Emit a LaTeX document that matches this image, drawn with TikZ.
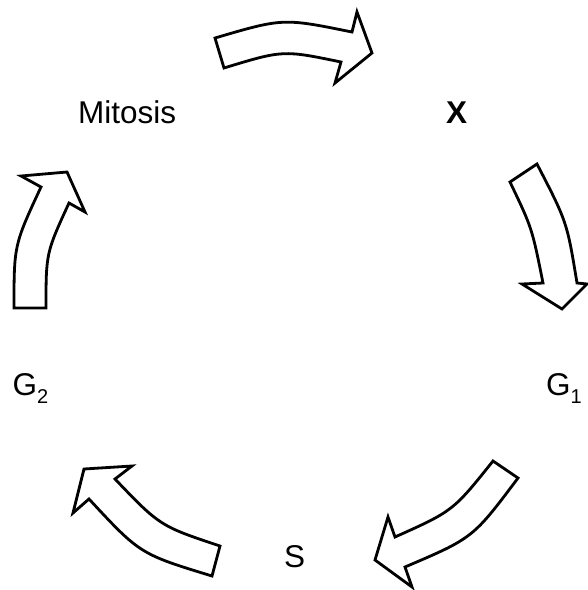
\documentclass[tikz,border=0pt]{standalone}
\usepackage{fontspec}
\setmainfont{Liberation Sans}
\begin{document}
\begin{tikzpicture}[x=1pt,y=-1pt,
  blockarrow/.style={draw=black, line width=2.8pt, line join=miter, fill=white},
  lbl/.style={inner sep=0pt, anchor=base west, font=\fontsize{31.5}{38}\selectfont}]
\useasboundingbox (0,0) rectangle (588,590);
% labels
\node[lbl] (mitosis) at (78,123) {Mitosis};
\node[lbl] (x) at (446,123) {\bfseries X};
\node[lbl] (g1) at (546,395) {G\raisebox{-8pt}{\fontsize{20}{20}\selectfont 1}};
\node[lbl] (s) at (284,567) {S};
\node[lbl] (g2) at (12.5,395) {G\raisebox{-8pt}{\fontsize{20}{20}\selectfont 2}};
% Mitosis -> X
\draw[blockarrow] (224,68) -- (215,38) .. controls (283,18) .. (352,32)
  -- (357,12) -- (372,53) -- (335,83) -- (341,62)
  .. controls (283,50) .. (224,68) -- cycle;
% X -> G1
\draw[blockarrow] (537,164) -- (510,182) .. controls (532,228) .. (543,283)
  -- (522,284) -- (562,309) -- (587,284) -- (577,283)
  .. controls (567,222) .. (537,164) -- cycle;
% G1 -> S
\draw[blockarrow] (518,478) -- (493,461) .. controls (453,511) .. (395,537)
  -- (388,517) -- (375,560) -- (412,587) -- (405,567)
  .. controls (473,538) .. (518,478) -- cycle;
% S -> G2
\draw[blockarrow] (212,576) -- (220,546) .. controls (160,526) .. (115,479)
  -- (132,466) -- (84,469) -- (73,513) -- (89,499)
  .. controls (140,554) .. (212,576) -- cycle;
% G2 -> Mitosis
\draw[blockarrow] (46,308) -- (14,308) .. controls (14,245) .. (41,187)
  -- (21,176) -- (67,172) -- (85,212) -- (69,203)
  .. controls (46,253) .. (46,308) -- cycle;
\end{tikzpicture}
\end{document}
